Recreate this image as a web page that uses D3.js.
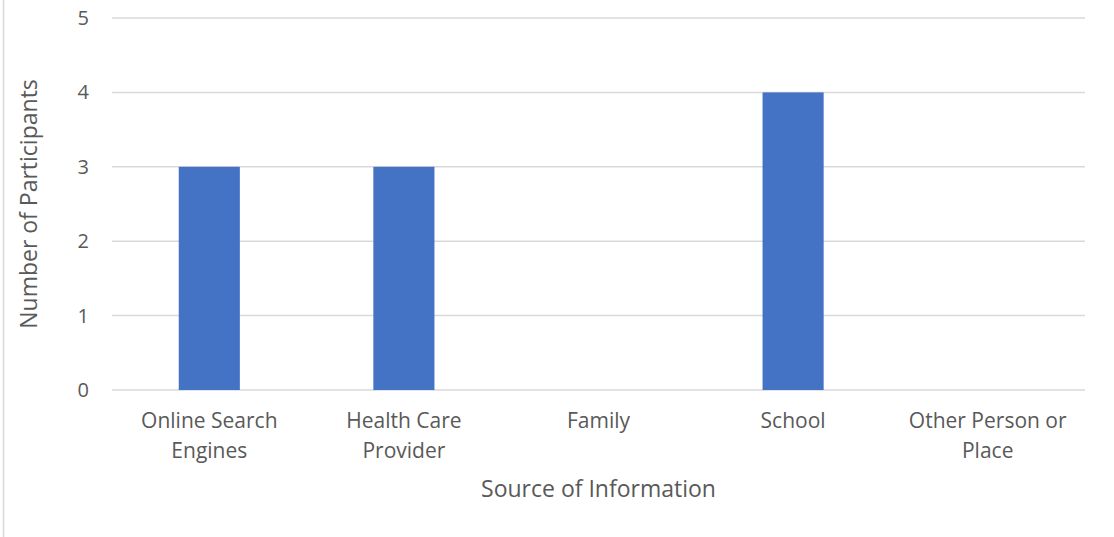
<!DOCTYPE html>
<html>
<head>
<meta charset="utf-8">
<script src="https://cdn.jsdelivr.net/npm/d3@7"></script>
<style>
  body { margin: 0; background: #fff; }
  text { font-family: "Open Sans", sans-serif; fill: #595959; }
</style>
</head>
<body>
<script>
const categories = ['Online Search Engines', 'Health Care Provider', 'Family', 'School', 'Other Person or Place'];
const categoryLines = [['Online Search', 'Engines'], ['Health Care', 'Provider'], ['Family'], ['School'], ['Other Person or', 'Place']];
const participants = [3, 3, 0, 4, 0];
const yTicks = [0, 1, 2, 3, 4, 5];

const W = 1114, H = 537;
const margin = { top: 18, right: 29, bottom: 147, left: 112 };
const width = W - margin.left - margin.right;
const height = H - margin.top - margin.bottom;

const svg = d3.select('body').append('svg')
  .attr('width', W)
  .attr('height', H);

// outer chart border on the left
svg.append('line')
  .attr('x1', 3.5).attr('x2', 3.5)
  .attr('y1', 0).attr('y2', H)
  .attr('stroke', '#d9d9d9').attr('stroke-width', 1.5);

const g = svg.append('g')
  .attr('transform', `translate(${margin.left},${margin.top})`);

const x = d3.scaleBand().domain(categories).range([0, width]).paddingInner(0.686).paddingOuter(0.343);
const y = d3.scaleLinear().domain([0, 5]).range([height, 0]);

// gridlines
g.append('g')
  .selectAll('line')
  .data(yTicks)
  .join('line')
  .attr('x1', 0).attr('x2', width)
  .attr('y1', d => y(d)).attr('y2', d => y(d))
  .attr('stroke', '#d9d9d9').attr('stroke-width', 1.5);

// y labels
g.append('g')
  .selectAll('text')
  .data(yTicks)
  .join('text')
  .attr('x', -23)
  .attr('y', d => y(d))
  .attr('dy', '0.35em')
  .attr('text-anchor', 'end')
  .attr('font-size', 20)
  .text(d => d);

// bars
g.append('g')
  .selectAll('rect')
  .data(categories)
  .join('rect')
  .attr('x', d => x(d))
  .attr('width', x.bandwidth())
  .attr('y', (d, i) => y(participants[i]))
  .attr('height', (d, i) => height - y(participants[i]))
  .attr('fill', '#4472c4');

// x labels
const xl = g.append('g')
  .selectAll('text')
  .data(categories)
  .join('text')
  .attr('text-anchor', 'middle')
  .attr('font-size', 21)
  .attr('transform', d => `translate(${x(d) + x.bandwidth() / 2},${height + 38})`);
xl.selectAll('tspan')
  .data((d, i) => categoryLines[i])
  .join('tspan')
  .attr('x', 0)
  .attr('dy', (d, i) => i === 0 ? 0 : 29.5)
  .text(d => d);

// axis titles
svg.append('text')
  .attr('x', margin.left + width / 2)
  .attr('y', 497)
  .attr('text-anchor', 'middle')
  .attr('font-size', 23)
  .text('Source of Information');

svg.append('text')
  .attr('transform', `translate(37,${margin.top + height / 2}) rotate(-90)`)
  .attr('text-anchor', 'middle')
  .attr('font-size', 23)
  .text('Number of Participants');
</script>
</body>
</html>
